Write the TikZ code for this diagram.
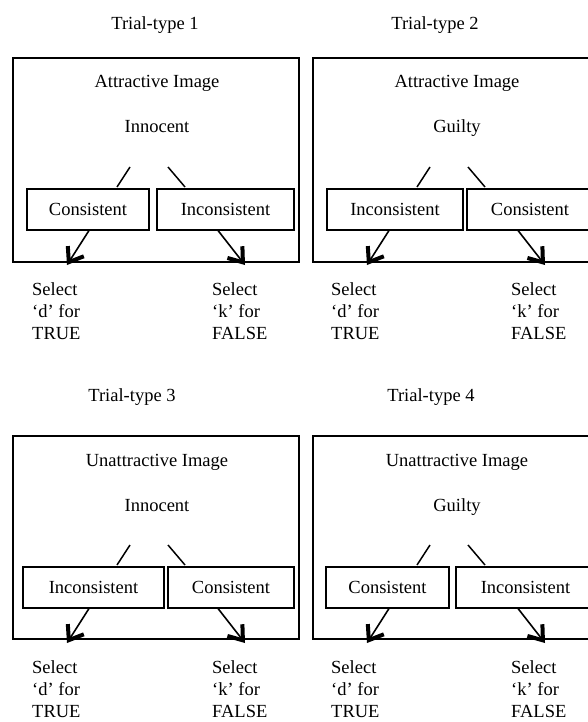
\documentclass[tikz,border=0pt]{standalone}
\usepackage{fontspec}
\setmainfont{Liberation Serif}
\usetikzlibrary{arrows.meta}
\begin{document}
\begin{tikzpicture}[x=1pt,y=-1pt,
  every node/.style={font=\fontsize{18.5}{22}\selectfont, inner sep=0pt},
  outerbox/.style={draw, line width=2pt},
  choicebox/.style={draw, line width=2pt},
  txt/.style={anchor=base},
  sel/.style={anchor=base west, align=left},
  link/.style={line width=1.5pt},
  resp/.style={line width=1.6pt, -{Straight Barb[length=13pt,width=19pt,line width=4pt]}}
]
\useasboundingbox (0,0) rectangle (587,722);

% ---------- Panel 1 ----------
\node[txt] (t1) at (155,30) {Trial-type 1};
\draw[outerbox] (13,58) rectangle (299,262);
\node[txt] (h1) at (157,88) {Attractive Image};
\node[txt] (s1) at (157,133) {Innocent};
\coordinate (l1a) at (130,167); \coordinate (l1b) at (117,187);
\coordinate (r1a) at (168,167); \coordinate (r1b) at (185,187);
\draw[link] (l1a) -- (l1b);
\draw[link] (r1a) -- (r1b);
\node[choicebox, minimum width=122pt, minimum height=41pt] (c1L) at (88,209.5) {Consistent};
\node[choicebox, minimum width=137pt, minimum height=41pt] (c1R) at (225.5,209.5) {Inconsistent};
\coordinate (a1L) at (67,265); \coordinate (a1R) at (245,265);
\draw[resp] (89,230.5) -- (a1L);
\draw[resp] (218,230.5) -- (a1R);
\node[sel] (d1) at (32,295) {Select};
\node[sel] at (32,317) {‘d’ for};
\node[sel] at (32,339) {TRUE};
\node[sel] (k1) at (212,295) {Select};
\node[sel] at (212,317) {‘k’ for};
\node[sel] at (212,339) {FALSE};

% ---------- Panel 2 ----------
\node[txt] (t2) at (435,30) {Trial-type 2};
\draw[outerbox] (313,58) rectangle (591,262);
\node[txt] (h2) at (457,88) {Attractive Image};
\node[txt] (s2) at (457,133) {Guilty};
\coordinate (l2a) at (430,167); \coordinate (l2b) at (417,187);
\coordinate (r2a) at (468,167); \coordinate (r2b) at (485,187);
\draw[link] (l2a) -- (l2b);
\draw[link] (r2a) -- (r2b);
\node[choicebox, minimum width=136pt, minimum height=41pt] (c2L) at (395,209.5) {Inconsistent};
\node[choicebox, minimum width=126pt, minimum height=41pt] (c2R) at (530,209.5) {Consistent};
\coordinate (a2L) at (367,265); \coordinate (a2R) at (545,265);
\draw[resp] (389,230.5) -- (a2L);
\draw[resp] (518,230.5) -- (a2R);
\node[sel] at (331,295) {Select};
\node[sel] at (331,317) {‘d’ for};
\node[sel] at (331,339) {TRUE};
\node[sel] at (511,295) {Select};
\node[sel] at (511,317) {‘k’ for};
\node[sel] at (511,339) {FALSE};

% ---------- Panel 3 ----------
\node[txt] (t3) at (132,401) {Trial-type 3};
\draw[outerbox] (13,436) rectangle (299,639);
\node[txt] (h3) at (157,466) {Unattractive Image};
\node[txt] (s3) at (157,511) {Innocent};
\coordinate (l3a) at (130,545); \coordinate (l3b) at (117,565);
\coordinate (r3a) at (168,545); \coordinate (r3b) at (185,565);
\draw[link] (l3a) -- (l3b);
\draw[link] (r3a) -- (r3b);
\node[choicebox, minimum width=141pt, minimum height=41pt] (c3L) at (93.5,587.5) {Inconsistent};
\node[choicebox, minimum width=126pt, minimum height=41pt] (c3R) at (231,587.5) {Consistent};
\coordinate (a3L) at (67,643); \coordinate (a3R) at (245,643);
\draw[resp] (89,608.5) -- (a3L);
\draw[resp] (218,608.5) -- (a3R);
\node[sel] at (32,673) {Select};
\node[sel] at (32,695) {‘d’ for};
\node[sel] at (32,717) {TRUE};
\node[sel] at (212,673) {Select};
\node[sel] at (212,695) {‘k’ for};
\node[sel] at (212,717) {FALSE};

% ---------- Panel 4 ----------
\node[txt] (t4) at (431,401) {Trial-type 4};
\draw[outerbox] (313,436) rectangle (591,639);
\node[txt] (h4) at (457,466) {Unattractive Image};
\node[txt] (s4) at (457,511) {Guilty};
\coordinate (l4a) at (430,545); \coordinate (l4b) at (417,565);
\coordinate (r4a) at (468,545); \coordinate (r4b) at (485,565);
\draw[link] (l4a) -- (l4b);
\draw[link] (r4a) -- (r4b);
\node[choicebox, minimum width=123pt, minimum height=41pt] (c4L) at (387.5,587.5) {Consistent};
\node[choicebox, minimum width=139pt, minimum height=41pt] (c4R) at (525.5,587.5) {Inconsistent};
\coordinate (a4L) at (367,643); \coordinate (a4R) at (545,643);
\draw[resp] (389,608.5) -- (a4L);
\draw[resp] (518,608.5) -- (a4R);
\node[sel] at (331,673) {Select};
\node[sel] at (331,695) {‘d’ for};
\node[sel] at (331,717) {TRUE};
\node[sel] at (511,673) {Select};
\node[sel] at (511,695) {‘k’ for};
\node[sel] at (511,717) {FALSE};
\end{tikzpicture}
\end{document}
